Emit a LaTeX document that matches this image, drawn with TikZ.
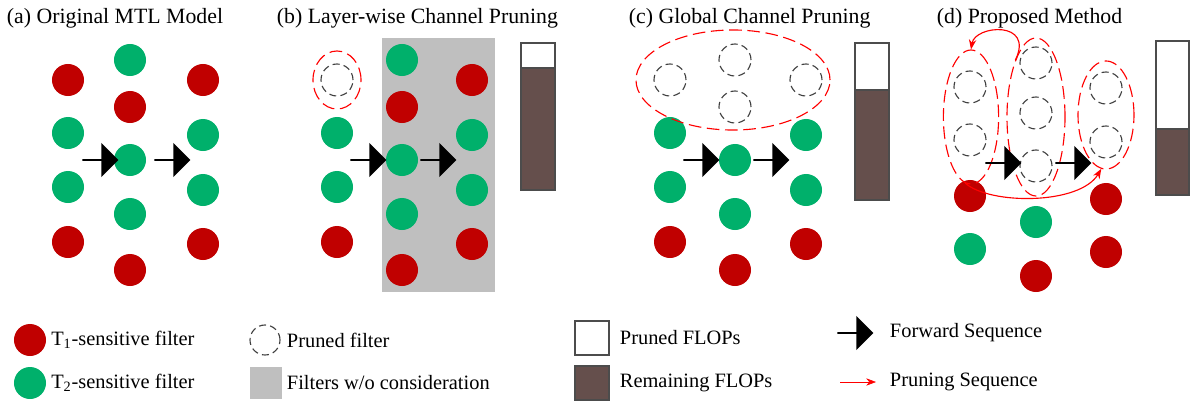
\documentclass[tikz,border=0pt]{standalone}
\usepackage{fontspec}
\setmainfont{Liberation Serif}
\usetikzlibrary{shapes.arrows,shapes.geometric,arrows.meta}
\definecolor{tred}{HTML}{C00000}
\definecolor{tgreen}{HTML}{00B06B}
\definecolor{flops}{HTML}{654F4C}
\definecolor{skip}{HTML}{BFBFBF}
\begin{document}
\begin{tikzpicture}[x=0.025cm,y=-0.025cm,font=\fontsize{14.5}{17}\selectfont]
  \tikzset{
    filt/.style={circle, minimum size=0.8cm, inner sep=0pt},
    t1/.style={filt, fill=tred},
    t2/.style={filt, fill=tgreen},
    pruned/.style={filt, draw=black!75, thick, dash pattern=on 5pt off 3pt},
    group/.style={ellipse, draw=red, thick, dash pattern=on 9pt off 4pt, inner sep=0pt},
    fwd/.style={single arrow, fill=black, minimum height=0.9cm, minimum width=0.85cm, single arrow head extend=0.12cm, inner sep=0pt, shape border uses incircle=false},
    seq/.style={red, thick, -{Stealth[length=7pt]}},
    bar/.style={draw=black!70, thick},
    title/.style={anchor=west, font=\fontsize{15.5}{18}\selectfont}
  }
  \useasboundingbox (0,0) rectangle (1193,402);
  % titles
  \node[title] (ta) at (2,18) {(a) Original MTL Model};
  \node[title] (tb) at (272,18) {(b) Layer-wise Channel Pruning};
  \node[title] (tc) at (624,18) {(c) Global Channel Pruning};
  \node[title] (td) at (932,18) {(d) Proposed Method};

  % (a) original
  \foreach \y/\s [count=\i] in {80/t1,133/t2,187/t2,242/t1} \node[\s] (a1-\i) at (68,\y) {};
  \foreach \y/\s [count=\i] in {60/t2,107/t1,160/t2,214/t2,270/t1} \node[\s] (a2-\i) at (130,\y) {};
  \foreach \y/\s [count=\i] in {80/t1,135/t2,190/t2,244/t1} \node[\s] (a3-\i) at (203,\y) {};
  \node[fwd] (fa1) at (100,160) {};
  \node[fwd] (fa2) at (172,160) {};

  % (b) layer-wise
  \fill[skip] (382,38) rectangle (495,292);
  \foreach \y/\s [count=\i] in {80/pruned,133/t2,187/t2,242/t1} \node[\s] (b1-\i) at (337,\y) {};
  \foreach \y/\s [count=\i] in {60/t2,107/t1,160/t2,214/t2,270/t1} \node[\s] (b2-\i) at (402,\y) {};
  \foreach \y/\s [count=\i] in {80/t1,135/t2,190/t2,244/t1} \node[\s] (b3-\i) at (472,\y) {};
  \node[group, minimum width=1.2cm, minimum height=1.45cm] (gb) at (337,80) {};
  \node[fwd] (fb1) at (368,160) {};
  \node[fwd] (fb2) at (438,160) {};
  \draw[bar] (521,43) rectangle (555,190);
  \fill[flops, draw=black!70, thick] (521,68) rectangle (555,190);

  % (c) global
  \foreach \y/\s [count=\i] in {80/pruned,133/t2,187/t2,242/t1} \node[\s] (c1-\i) at (670,\y) {};
  \foreach \y/\s [count=\i] in {60/pruned,107/pruned,160/t2,214/t2,270/t1} \node[\s] (c2-\i) at (735,\y) {};
  \foreach \y/\s [count=\i] in {80/pruned,135/t2,190/t2,244/t1} \node[\s] (c3-\i) at (806,\y) {};
  \node[group, minimum width=4.85cm, minimum height=2.5cm] (gc) at (733,80) {};
  \node[fwd] (fc1) at (701,160) {};
  \node[fwd] (fc2) at (771,160) {};
  \draw[bar] (855,43) rectangle (889,200);
  \fill[flops, draw=black!70, thick] (855,90) rectangle (889,200);

  % (d) proposed
  \foreach \y/\s [count=\i] in {87/pruned,140/pruned,196/t1,249/t2} \node[\s] (d1-\i) at (970,\y) {};
  \foreach \y/\s [count=\i] in {63/pruned,113/pruned,166/pruned,222/t2,276/t1} \node[\s] (d2-\i) at (1036,\y) {};
  \foreach \y/\s [count=\i] in {88/pruned,142/pruned,199/t1,252/t1} \node[\s] (d3-\i) at (1106,\y) {};
  \node[group, minimum width=1.38cm, minimum height=3.35cm] (gd1) at (971,117) {};
  \node[group, minimum width=1.45cm, minimum height=3.95cm] (gd2) at (1036,117) {};
  \node[group, minimum width=1.4cm, minimum height=2.7cm] (gd3) at (1106,115) {};
  \node[fwd] (fd1) at (1003,163) {};
  \node[fwd] (fd2) at (1073,163) {};
  \draw[seq] (gd2.110) .. controls (1035,20) and (975,25) .. (gd1.90);
  \draw[seq] (gd1.-95) .. controls (990,205) and (1080,205) .. (gd3.-95);
  \draw[bar] (1156,41) rectangle (1189,195);
  \fill[flops, draw=black!70, thick] (1156,129) rectangle (1189,195);

  % legend
  \node[t1] (l1) at (30,340) {};
  \node[anchor=west] (l1t) at (l1.east) {T\textsubscript{1}-sensitive filter};
  \node[t2] (l2) at (30,383) {};
  \node[anchor=west] (l2t) at (l2.east) {T\textsubscript{2}-sensitive filter};
  \node[pruned, minimum size=0.75cm] (l3) at (265,340) {};
  \node[anchor=west] (l3t) at (282,340) {Pruned filter};
  \node[fill=skip, minimum size=0.8cm, inner sep=0pt] (l4) at (266,383) {};
  \node[anchor=west] (l4t) at (282,383) {Filters w/o consideration};
  \node[draw=black!70, thick, minimum size=0.85cm, inner sep=0pt] (l5) at (592,338) {};
  \node[anchor=west] (l5t) at (615,338) {Pruned FLOPs};
  \node[fill=flops, draw=black!70, thick, minimum size=0.85cm, inner sep=0pt] (l6) at (592,383) {};
  \node[anchor=west] (l6t) at (615,383) {Remaining FLOPs};
  \node[fwd] (l7) at (855,333) {};
  \node[anchor=west] (l7t) at (885,333) {Forward Sequence};
  \coordinate (l8a) at (840,382);
  \coordinate (l8b) at (876,382);
  \draw[seq, thin] (l8a) -- (l8b);
  \node[anchor=west] (l8t) at (885,382) {Pruning Sequence};
\end{tikzpicture}
\end{document}
